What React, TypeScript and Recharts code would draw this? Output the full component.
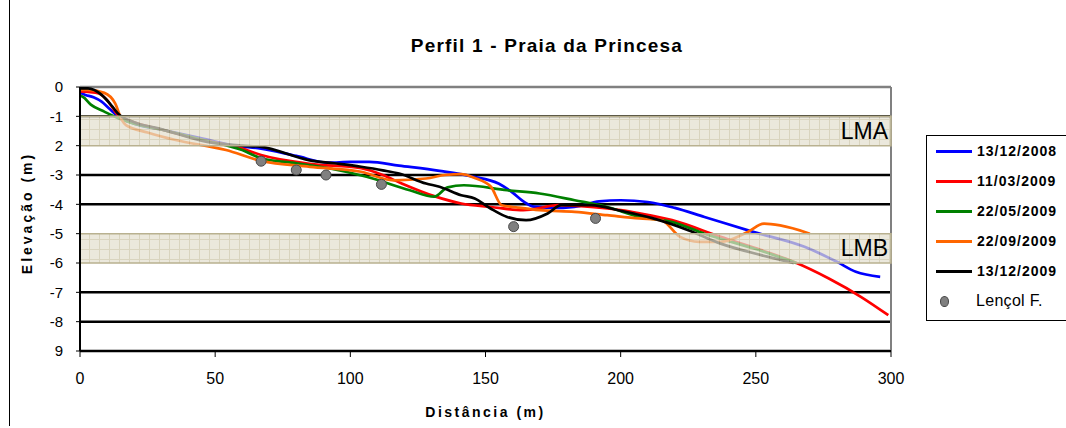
import {
  ComposedChart,
  Line,
  Scatter,
  XAxis,
  YAxis,
  ReferenceArea,
  ReferenceLine,
} from 'recharts';

type Pt = { d: number; e: number };

const toPts = (rows: number[][]): Pt[] => rows.map(([d, e]) => ({ d, e }));

// perfis (distância m, elevação m)
const dec2008 = toPts([
  [0, -0.2], [2, -0.27], [5, -0.35], [8, -0.5], [11, -0.75], [14, -1.0], [20, -1.25],
  [30, -1.45], [45, -1.75], [57, -2.0], [67, -2.1], [80, -2.35], [92, -2.58], [100, -2.55],
  [107, -2.55], [118, -2.68], [133, -2.86], [145, -3.05], [155, -3.3], [160, -3.6],
  [164, -3.9], [168, -4.08], [177, -4.12], [185, -4.05], [192, -3.9], [200, -3.86],
  [210, -3.92], [220, -4.12], [231, -4.43], [249, -4.94], [268, -5.45], [280, -5.96],
  [287, -6.3], [296, -6.47],
]);

const mar2009 = toPts([
  [0, -0.15], [3, -0.17], [7, -0.22], [10, -0.45], [12, -0.7], [14, -0.95], [20, -1.2],
  [30, -1.45], [45, -1.8], [60, -2.1], [67, -2.32], [85, -2.62], [104, -2.77], [112, -3.0],
  [119, -3.29], [131, -3.72], [141, -3.97], [152, -4.09], [164, -4.2], [177, -4.03],
  [189, -4.09], [200, -4.2], [207, -4.31], [219, -4.54], [237, -5.11], [252, -5.56],
  [264, -5.96], [277, -6.53], [289, -7.16], [299, -7.78],
]);

const may2009 = toPts([
  [0, -0.3], [1, -0.33], [4, -0.6], [9, -0.84], [14, -1.06], [20, -1.25], [30, -1.45],
  [45, -1.8], [60, -2.15], [67, -2.43], [80, -2.6], [92, -2.77], [106, -3.06], [122, -3.52],
  [131, -3.74], [136, -3.42], [142, -3.35], [158, -3.52], [170, -3.63], [183, -3.86],
  [195, -4.09], [207, -4.43], [219, -4.6], [231, -5.0], [249, -5.5], [262, -5.9], [265, -6.0],
]);

const sep2009 = toPts([
  [0, -0.1], [3, -0.1], [9, -0.2], [13, -0.56], [15.5, -1.13], [17, -1.3], [25, -1.55],
  [35, -1.8], [54, -2.15], [67, -2.52], [85, -2.72], [104, -2.89], [116, -3.18], [128, -3.12],
  [135, -3.0], [141, -2.97], [146, -3.1], [152, -3.4], [156, -4.03], [162, -4.11],
  [170, -4.2], [183, -4.26], [195, -4.37], [207, -4.48], [215, -4.54], [222, -5.11],
  [229, -5.28], [237, -5.28], [247, -4.94], [253, -4.66], [259, -4.72], [270, -5.0],
]);

const dec2009 = toPts([
  [0, -0.05], [3, -0.05], [8, -0.27], [12, -0.67], [14, -0.9], [20, -1.2], [29, -1.41],
  [47, -1.87], [60, -2.0], [67, -2.04], [85, -2.5], [94, -2.6], [104, -2.72], [112, -2.84],
  [118, -2.95], [128, -3.29], [133, -3.4], [141, -3.69], [146, -3.8], [152, -4.15],
  [158, -4.43], [165, -4.54], [173, -4.31], [178, -4.03], [189, -4.03], [200, -4.22],
  [212, -4.48], [225, -4.88], [237, -5.34], [252, -5.73], [264, -6.0],
]);

const lencol = toPts([
  [67, -2.53], [80, -2.83], [91, -3.0], [111.5, -3.32], [160.4, -4.76], [190.7, -4.48],
]);

const xTicks = [0, 50, 100, 150, 200, 250, 300];
const yTicks = [0, -1, -2, -3, -4, -5, -6, -7, -8, -9];
// rótulos tal como aparecem na figura original
const yTickLabels = ['0', '-1', '2', '-3', '-4', '-5', '-6', '-7', '-8', '9'];

const bands = [
  { name: 'LMA', top: -1, bottom: -2 },
  { name: 'LMB', top: -5, bottom: -6 },
];

const series = [
  { name: '13/12/2008', color: '#0000ff', data: dec2008 },
  { name: '11/03/2009', color: '#ff0000', data: mar2009 },
  { name: '22/05/2009', color: '#008000', data: may2009 },
  { name: '22/09/2009', color: '#ff6600', data: sep2009 },
  { name: '13/12/2009', color: '#000000', data: dec2009 },
];

const FONT = '"Liberation Sans", Arial, sans-serif';

// linhas de grade pretas: as que ficam escondidas pelas faixas não são desenhadas
const gridValues = yTicks.filter(
  (v) => v !== 0 && !bands.some((b) => b.bottom === v || (b.top === v && v !== -1)),
);

function LegendBox() {
  return (
    <div
      style={{
        position: 'absolute',
        left: 926,
        top: 135,
        width: 150,
        height: 186,
        border: '1px solid #000',
        background: '#fff',
        fontFamily: FONT,
        boxSizing: 'border-box',
      }}
    >
      {series.map((s) => (
        <div key={s.name} style={{ height: 30, display: 'flex', alignItems: 'center' }}>
          <span style={{ width: 36, height: 3, background: s.color, marginLeft: 9 }} />
          <span style={{ marginLeft: 5, fontSize: 14, fontWeight: 'bold', letterSpacing: 1 }}>{s.name}</span>
        </div>
      ))}
      <div style={{ height: 30, display: 'flex', alignItems: 'center' }}>
        <span
          style={{
            width: 7,
            height: 9,
            borderRadius: '50%',
            background: '#808080',
            border: '1px solid #444',
            marginLeft: 13,
            marginRight: 27,
          }}
        />
        <span style={{ fontSize: 16, letterSpacing: 0.3 }}>Lençol F.</span>
      </div>
    </div>
  );
}

export default function App() {
  return (
    <div
      style={{
        position: 'absolute',
        left: 0,
        top: 0,
        width: 1066,
        height: 428,
        background: '#fff',
        fontFamily: FONT,
        overflow: 'hidden',
      }}
    >
      <div style={{ position: 'absolute', left: 9, top: 0, width: 1, height: 426, background: '#000' }} />
      <div
        style={{
          position: 'absolute',
          left: 0,
          width: 1094,
          top: 35,
          textAlign: 'center',
          fontSize: 19,
          fontWeight: 'bold',
          letterSpacing: 1.2,
        }}
      >
        Perfil 1 - Praia da Princesa
      </div>
      <ComposedChart width={1066} height={428} margin={{ top: 87, right: 175, bottom: 0, left: 0 }}>
        <defs>
          <pattern id="bandFill" width="10" height="10" patternUnits="userSpaceOnUse">
            <rect width="10" height="10" fill="#e3dfce" />
            <path d="M9.5 0 V10 M0 9.5 H10" stroke="#cbc4a6" strokeWidth="1" />
          </pattern>
        </defs>
        <XAxis
          type="number"
          dataKey="d"
          domain={[0, 300]}
          ticks={xTicks}
          height={77}
          allowDataOverflow
          axisLine={{ stroke: '#000', strokeWidth: 2 }}
          tickLine={{ stroke: '#000', strokeWidth: 1 }}
          tickSize={6}
          tickMargin={16}
          tick={{ fill: '#000', fontSize: 16, fontFamily: FONT }}
          label={{
            value: 'Distância (m)',
            position: 'insideBottom',
            offset: 11,
            style: { fontSize: 14, fontWeight: 'bold', letterSpacing: 2.5, fill: '#000', fontFamily: FONT },
          }}
        />
        <YAxis
          type="number"
          dataKey="e"
          domain={[-9, 0]}
          ticks={yTicks}
          width={80}
          allowDataOverflow
          axisLine={{ stroke: '#000', strokeWidth: 2 }}
          tickLine={{ stroke: '#000', strokeWidth: 1 }}
          tickSize={4}
          tickMargin={13}
          tickFormatter={(v: number) => yTickLabels[yTicks.indexOf(v)] ?? String(v)}
          tick={{ fill: '#000', fontSize: 15, fontFamily: FONT }}
          label={{
            value: 'Elevação (m)',
            angle: -90,
            position: 'insideLeft',
            offset: 27,
            dy: -6,
            style: { fontSize: 14, fontWeight: 'bold', letterSpacing: 3, fill: '#000', textAnchor: 'middle', fontFamily: FONT },
          }}
        />
        {gridValues.map((v) => (
          <ReferenceLine key={v} y={v} stroke="#000" strokeWidth={2.5} zIndex={-50} />
        ))}
        <ReferenceLine y={0} stroke="#808080" strokeWidth={2.5} zIndex={-50} />
        <ReferenceLine x={300} stroke="#808080" strokeWidth={2} zIndex={-50} />
        {series.map((s) => (
          <Line
            key={s.name}
            data={s.data}
            dataKey="e"
            name={s.name}
            type="monotone"
            stroke={s.color}
            strokeWidth={2.7}
            dot={false}
            activeDot={false}
            isAnimationActive={false}
          />
        ))}
        {bands.map((b) => (
          <ReferenceArea
            key={b.name}
            x1={0}
            x2={300}
            y1={b.top}
            y2={b.bottom}
            fill="url(#bandFill)"
            fillOpacity={0.72}
            stroke="#b9b190"
            strokeWidth={1.5}
            zIndex={450}
            label={{ value: b.name, position: 'insideRight', offset: 3, fontSize: 23, fill: '#000', fontFamily: FONT }}
          />
        ))}
        <Scatter
          data={lencol}
          dataKey="e"
          name="Lençol F."
          isAnimationActive={false}
          shape={(p: any) => <circle cx={p.cx} cy={p.cy} r={5} fill="#808080" stroke="#4a4a4a" strokeWidth={1} />}
        />
      </ComposedChart>
      <LegendBox />
    </div>
  );
}
